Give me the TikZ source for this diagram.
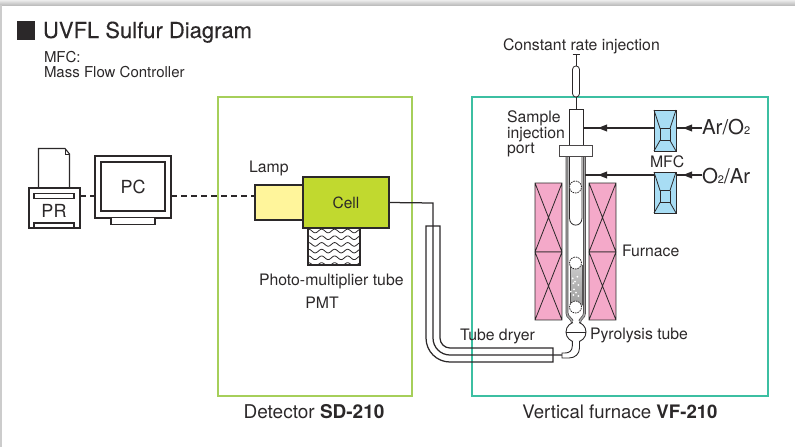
\documentclass[tikz,border=0pt]{standalone}
\usepackage{fontspec}
\setmainfont{TeX Gyre Heros}
\newfontfamily\titlefont[FakeBold=0.25]{TeX Gyre Heros}
\usetikzlibrary{calc}
\definecolor{ink}{HTML}{2B2829}
\definecolor{detgreen}{HTML}{A6CF5A}
\definecolor{vfteal}{HTML}{3CBFA2}
\definecolor{lampy}{HTML}{FFF59B}
\definecolor{cellg}{HTML}{C1D92F}
\definecolor{furnp}{HTML}{F4A9C9}
\definecolor{mfcb}{HTML}{A8DDF4}
\tikzset{
  px/.style={x=1pt,y=-1pt},
  blk/.style={draw=ink,line width=1.1pt,inner sep=0pt,outer sep=0pt,fill=white,text=ink},
  frm/.style={draw=#1,line width=1.4pt,inner sep=0pt,outer sep=0pt},
  lbl/.style={inner sep=0pt,outer sep=0pt,anchor=base west,text=ink,font=\fontsize{15.8}{18}\selectfont},
  lblc/.style={inner sep=0pt,outer sep=0pt,anchor=base,text=ink,font=\fontsize{15.8}{18}\selectfont},
  ln/.style={draw=ink,line width=1.25pt},
  dsh/.style={draw=ink,line width=1.1pt,dash pattern=on 6pt off 4pt},
  wall/.style={draw=ink!85,line width=0.7pt,double=gray!70,double distance=1.4pt},
  tipf/.style={fill=ink},
}
\begin{document}
\begin{tikzpicture}[px]
\useasboundingbox (0,0) rectangle (795,447);
% page edge
\shade[top color=gray!15,bottom color=gray!55] (0,0) rectangle (795,5.5);
\fill[gray!40] (0,5) rectangle (2,447);
% title
\node[inner sep=0pt,fill=ink,minimum width=18pt,minimum height=19pt] (sq) at (26,30.5) {};
\node[lbl,font=\titlefont\fontsize{22}{24}\selectfont] (title) at (43,38) {UVFL Sulfur Diagram};
\node[lbl,font=\fontsize{15}{17}\selectfont] (mfcnote) at (44,62) {MFC:};
\node[lbl,font=\fontsize{15}{17}\selectfont] (mfcnote2) at (44,77) {Mass Flow Controller};
% frames
\node[frm=detgreen,minimum width=194pt,minimum height=299pt] (det) at (315,246.5) {};
\node[frm=vfteal,minimum width=296pt,minimum height=299pt] (vf) at (620,246.5) {};
\node[lblc,font=\fontsize{19}{21}\selectfont] (detl) at (314,418) {Detector \textbf{SD-210}};
\node[lblc,font=\fontsize{18.6}{21}\selectfont] (vfl) at (620,418) {Vertical furnace \textbf{VF-210}};
% printer
\draw[ln,line width=1.1pt,fill=white] (38.5,188) -- (38.5,148.5) -- (65,148.5) -- (69.5,154) -- (69.5,188);
\draw[ln,line width=0.6pt] (65,148.5) -- (65,154) -- (69.5,154);
\node[blk,minimum width=51pt,minimum height=40pt] (printer) at (54.5,208) {};
\node[blk,minimum width=40pt,minimum height=5.5pt] (slota) at (54,196) {};
\node[blk,minimum width=40pt,minimum height=5pt] (slotb) at (54,225.5) {};
\node[lblc,font=\fontsize{18}{20}\selectfont] (prt) at (54,217.5) {PR};
% PC
\node[blk,minimum width=76pt,minimum height=62pt] (pcout) at (133,187) {};
\node[blk,minimum width=64pt,minimum height=49pt,font=\fontsize{18}{20}\selectfont] (pcin) at (133,186.5) {PC};
\node[blk,minimum width=44pt,minimum height=6.5pt] (pcst) at (133,221) {};
\coordinate (dl) at (0,196);
% lamp, cell, PMT
\node[blk,fill=lampy,minimum width=48pt,minimum height=35pt] (lamp) at (279,202.5) {};
\node[blk,minimum width=52pt,minimum height=37pt] (pmt) at (334,246.5) {};
\begin{scope}
\clip (pmt.south west) rectangle (pmt.north east);
\foreach \r in {231,237.7,244.4,251.1,257.8,264.5}
  \draw[ink,line width=0.8pt] plot[domain=306:362,samples=90,smooth] (\x,{\r+1.8*sin(\x*27.7)});
\end{scope}
\draw[ink,line width=0.9pt] (pmt.south west) rectangle (pmt.north east);
\node[blk,fill=cellg,minimum width=86pt,minimum height=51pt,font=\fontsize{15.5}{17}\selectfont] (cell) at (346,202.5) {Cell};
\draw[dsh] (printer.east |- dl) -- (pcout.west |- dl);
\draw[dsh] (pcout.east |- dl) -- (lamp.west |- dl);
\node[lbl] (lampl) at (249,172) {Lamp};
\node[lbl] (pmtl) at (259,285) {Photo-multiplier tube};
\node[lblc] (pmtl2) at (322,308) {PMT};
% furnace blocks
\foreach \n/\xa/\xb in {l/535/562,r/589/616}{
  \foreach \ya/\yb in {183/252,252/320}{
    \fill[furnp] (\xa,\ya) rectangle (\xb,\yb);
    \draw[ink,line width=0.8pt] (\xa,\ya) rectangle (\xb,\yb) (\xa,\ya) -- (\xb,\yb) (\xb,\ya) -- (\xa,\yb);
  }
}
% syringe
\coordinate (syrtop) at (576,54);
\draw[ln,line width=0.8pt] (572.5,54) -- (579.5,54);
\node[blk,rounded corners=3.4pt,line width=0.8pt,minimum width=7pt,minimum height=31pt] (syr) at (576,81.5) {};
\node[blk,line width=0.9pt,minimum width=14pt,minimum height=36pt] (port) at (576,127) {};
\draw[ln,line width=0.8pt] (syrtop) -- (syr.north);
\draw[ln,line width=0.8pt] (syr.south) -- (port.north);
% pyrolysis tube
\draw[wall] (567,156) -- (567,313) .. controls (567,318) and (572.5,318) .. (572.5,323);
\draw[wall] (584.5,156) -- (584.5,313) .. controls (584.5,318) and (579.5,318) .. (579.5,323);
\draw[ink,line width=0.8pt] (569.5,156) -- (569.5,218) .. controls (569.5,227.5) and (582,227.5) .. (582,218) -- (582,156);
\node[blk,draw=ink!85,line width=0.9pt,minimum width=33pt,minimum height=11pt] (flange) at (575.5,150.5) {};
\shade[top color=gray!40,bottom color=gray!75,middle color=gray!60] (570,265) rectangle (582.5,305);
\draw[ink!80,line width=0.8pt] (570,265) -- (570,305) (582.5,265) -- (582.5,305);
\foreach \x/\y in {572.7/278.3,577.3/276.7,573.3/283.3,578.3/285,574/289.3,570.7/291.7,576/292.7,573.3/295,578.3/296,575/281.7}
  \fill[white] (\x,\y) circle[radius=1pt];
\foreach \nm/\y in {ca/187,cb/263,cc/307}
  \node[draw=ink,line width=0.8pt,fill=white,circle,inner sep=0pt,minimum size=12pt,dash pattern=on 1.6pt off 0.9pt] (\nm) at (575.5,\y) {};
\node[draw=ink,line width=0.9pt,circle,inner sep=0pt,minimum size=20pt] (bulb) at (576,332) {};
\draw[ink,line width=0.9pt] (bulb.west) -- (bulb.east);
\fill[white] (573.2,320.5) rectangle (578.8,323);
\fill[white] (573.2,341) rectangle (578.8,343);
\draw[ink,line width=0.9pt] (572.3,341) -- (572.3,346) .. controls (572.3,351) and (569,353) .. (565,353) -- (562,353) -- (562,358) -- (569,358) .. controls (575,358) and (579.5,354) .. (579.5,348) -- (579.5,341);
% tube dryer
\draw[ln] (426,226) -- (440,226) -- (440,338) .. controls (440,343.5) and (444.5,348) .. (450,348) -- (553,348) -- (553,362) -- (450,362) .. controls (436.7,362) and (426,351.3) .. (426,338) -- cycle;
\coordinate (endtube) at (562,355);
\coordinate (cellb) at (433,203);
\draw[ln] (cell.east) -- (cellb) -- (433,338) .. controls (433,347.4) and (440.6,355) .. (450,355) -- (endtube);
% MFCs
\foreach \nm/\c in {mfca/130.5,mfcb/192.5}{
  \node[blk,fill=mfcb,line width=0.9pt,minimum width=22pt,minimum height=41pt] (\nm) at (665,\c) {};
  \draw[ink,line width=0.8pt] (\nm.north west) -- ($(\nm.center)+(-5,-2)$) -- ($(\nm.center)+(5,-2)$) -- (\nm.north east);
  \draw[ink,line width=0.8pt] (\nm.south west) -- ($(\nm.center)+(-5,10)$) -- ($(\nm.center)+(5,10)$) -- (\nm.south east);
  \draw[ink,line width=0.8pt] ($(\nm.center)+(-5,-2)$) -- ($(\nm.center)+(-5,10)$) ($(\nm.center)+(5,-2)$) -- ($(\nm.center)+(5,10)$);
}
\node[lbl,font=\fontsize{20.5}{22}\selectfont] (aro) at (702,134) {Ar/O{\fontsize{11}{12}\selectfont 2}};
\node[lbl,font=\fontsize{20.5}{22}\selectfont] (oar) at (702,183) {O{\fontsize{11}{12}\selectfont 2}/Ar};
% arrows
\coordinate (ta) at (598,128); \coordinate (tb) at (683,128);
\coordinate (tc) at (598,175); \coordinate (td) at (683,175);
\draw[ln] (mfca.west |- ta) -- (port.east |- ta);
\draw[ln] (aro.west |- tb) -- (mfca.east |- tb);
\draw[ln] (mfcb.west |- tc) -- (584.5,175);
\draw[ln] (oar.west |- td) -- (mfcb.east |- td);
\foreach \t in {ta,tb,tc,td}
  \fill[tipf] (\t) -- ($(\t)+(9,-3.6)$) -- ($(\t)+(9,3.6)$) -- cycle;
% labels
\node[lbl] (cri) at (503,50) {Constant rate injection};
\node[lbl] (s1) at (507,122.5) {Sample};
\node[lbl] (s2) at (507,138) {injection};
\node[lbl] (s3) at (507,153.5) {port};
\node[lbl] (mfcl) at (650,167) {MFC};
\node[lbl] (furn) at (622,256) {Furnace};
\node[lbl] (pyro) at (590,339) {Pyrolysis tube};
\node[lbl] (dry) at (460,340) {Tube dryer};
\end{tikzpicture}
\end{document}
